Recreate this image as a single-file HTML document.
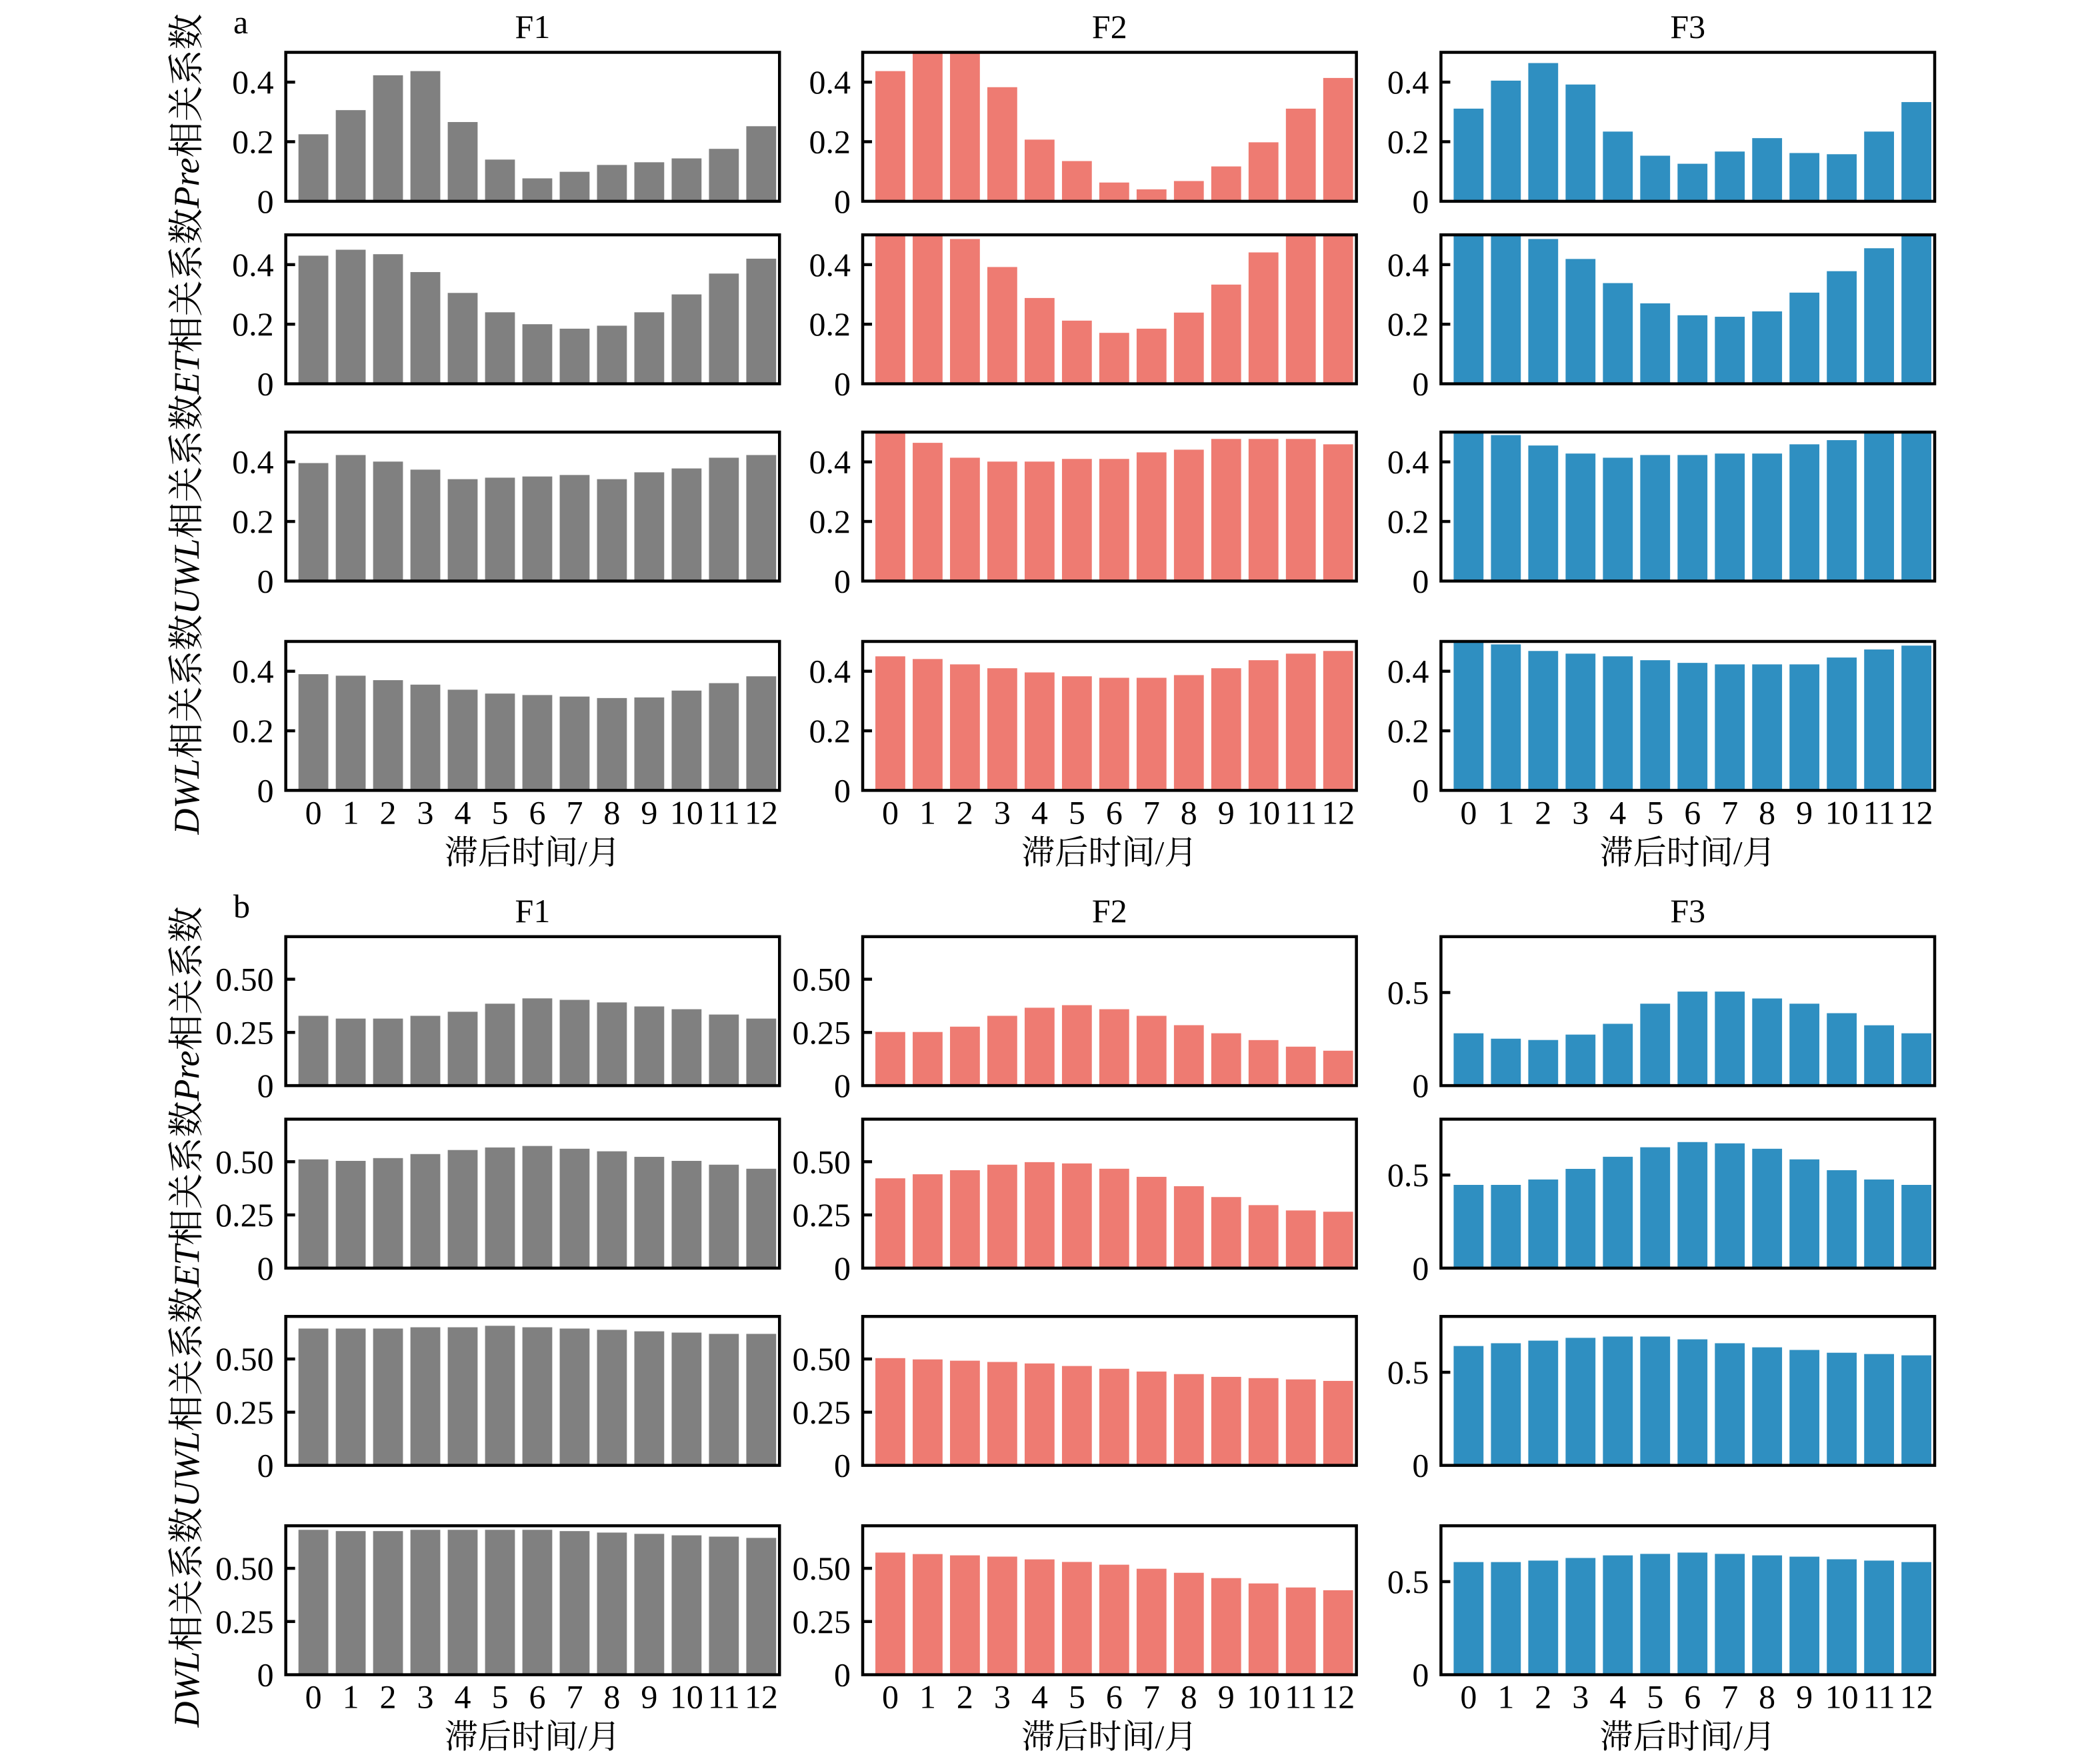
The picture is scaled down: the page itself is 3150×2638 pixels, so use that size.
<!DOCTYPE html>
<html><head><meta charset="utf-8">
<style>
html,body{margin:0;padding:0;background:#fff;}
svg{display:block;}
text{font-family:"Liberation Serif","Noto Serif CJK SC",serif;fill:#000;}
</style></head>
<body>
<svg id="s" width="3150" height="2638" viewBox="0 0 3150 2638" xmlns="http://www.w3.org/2000/svg"></svg>
<script>
const S=2.0125;
const svg=document.getElementById('s');
const NS='http://www.w3.org/2000/svg';
function el(t,a,txt){const e=document.createElementNS(NS,t);for(const k in a)e.setAttribute(k,a[k]);if(txt!==undefined)e.textContent=txt;svg.appendChild(e);return e;}
const colors=['#808080','#EE7B72','#2F8FC1'];
const colL=[213,643,1074], W=368, H=111;
const tops={a:[39,175,322,478],b:[698,834,981,1137]};
const data={a:[
[[0.225,0.306,0.423,0.437,0.266,0.14,0.077,0.099,0.122,0.131,0.144,0.176,0.252],
 [0.437,0.5,0.5,0.383,0.207,0.135,0.063,0.04,0.068,0.117,0.198,0.311,0.414],
 [0.311,0.405,0.464,0.392,0.234,0.153,0.126,0.167,0.212,0.162,0.158,0.234,0.333]],
[[0.43,0.45,0.435,0.375,0.305,0.24,0.2,0.185,0.195,0.24,0.3,0.37,0.42],
 [0.5,0.5,0.486,0.392,0.288,0.212,0.171,0.185,0.239,0.333,0.441,0.5,0.5],
 [0.5,0.5,0.486,0.419,0.338,0.27,0.23,0.225,0.243,0.306,0.378,0.455,0.5]],
[[0.396,0.423,0.401,0.374,0.342,0.347,0.351,0.356,0.342,0.365,0.378,0.414,0.423],
 [0.5,0.464,0.414,0.401,0.401,0.41,0.41,0.432,0.441,0.477,0.477,0.477,0.459],
 [0.5,0.49,0.455,0.428,0.414,0.423,0.423,0.428,0.428,0.459,0.473,0.5,0.5]],
[[0.39,0.385,0.37,0.355,0.338,0.325,0.32,0.315,0.31,0.312,0.335,0.36,0.383],
 [0.45,0.441,0.423,0.41,0.396,0.383,0.378,0.378,0.387,0.41,0.437,0.459,0.468],
 [0.5,0.49,0.468,0.459,0.45,0.437,0.428,0.423,0.423,0.423,0.446,0.473,0.486]]
],b:[
[[0.328,0.315,0.315,0.328,0.347,0.385,0.41,0.403,0.391,0.372,0.359,0.334,0.315],
 [0.252,0.252,0.277,0.328,0.366,0.378,0.359,0.328,0.284,0.246,0.214,0.183,0.164],
 [0.281,0.252,0.245,0.274,0.332,0.44,0.505,0.505,0.468,0.44,0.389,0.324,0.281]],
[[0.511,0.504,0.517,0.536,0.555,0.567,0.574,0.561,0.549,0.523,0.504,0.486,0.467],
 [0.422,0.441,0.46,0.486,0.498,0.492,0.467,0.429,0.385,0.334,0.296,0.271,0.265],
 [0.447,0.447,0.476,0.533,0.598,0.649,0.677,0.67,0.641,0.584,0.526,0.476,0.447]],
[[0.643,0.643,0.643,0.649,0.649,0.656,0.649,0.643,0.637,0.63,0.624,0.618,0.618],
 [0.504,0.498,0.492,0.486,0.479,0.467,0.454,0.441,0.429,0.416,0.41,0.404,0.397],
 [0.641,0.656,0.67,0.685,0.692,0.692,0.677,0.656,0.634,0.62,0.605,0.598,0.591]],
[[0.681,0.675,0.675,0.681,0.681,0.681,0.681,0.675,0.668,0.662,0.655,0.649,0.643],
 [0.574,0.567,0.561,0.555,0.542,0.53,0.517,0.498,0.479,0.454,0.429,0.41,0.397],
 [0.605,0.605,0.613,0.627,0.641,0.649,0.656,0.649,0.641,0.634,0.62,0.613,0.605]]
]};
const x0=-0.74,x1=12.49;
for(const part of ['a','b']){
 for(let r=0;r<4;r++){
  for(let c=0;c<3;c++){
   const L=colL[c]*S, T=tops[part][r]*S, w=W*S, h=H*S, B=T+h;
   let ymax, ticks, lbl;
   if(part==='a'){ymax=0.5;ticks=[0,0.2,0.4];lbl=['0','0.2','0.4'];}
   else if(c<2){ymax=0.7;ticks=[0,0.25,0.5];lbl=['0','0.25','0.50'];}
   else {ymax=0.8;ticks=[0,0.5];lbl=['0','0.5'];}
   const vals=data[part][r][c];
   const px=w/(x1-x0);
   vals.forEach((v,i)=>{
     const vv=Math.min(v,ymax);
     const bh=vv/ymax*h;
     el('rect',{x:L+(i-0.4-x0)*px,y:B-bh,width:0.8*px,height:bh,fill:colors[c]});
   });
   el('rect',{x:L,y:T,width:w,height:h,fill:'none',stroke:'#000','stroke-width':4.5});
   ticks.forEach((t,k)=>{
     const y=B-t/ymax*h;
     if(k>0) el('line',{x1:L,x2:L+14,y1:y,y2:y,stroke:'#000','stroke-width':4.5});
     el('text',{x:L-18,y:y+17,'font-size':50,'text-anchor':'end'},lbl[k]);
   });
   if(r===3){
     for(let i=0;i<13;i++){
       el('text',{x:L+(i-x0)*px,y:B+50,'font-size':50,'text-anchor':'middle'},String(i));
     }
     el('text',{x:L+w/2,y:B+110,'font-size':50,'text-anchor':'middle'},'滞后时间/月');
   }
  }
 }
 const ty=part==='a'?40:1366;
 [397,827,1258].forEach((x,i)=>el('text',{x:x*S,y:ty+17,'font-size':50,'text-anchor':'middle'},'F'+(i+1)));
 el('text',{x:350,y:ty+10,'font-size':50},part);
 const cy=part==='a'?636:1975;
 const t=el('text',{x:0,y:0,'font-size':54,'text-anchor':'middle',transform:`translate(298,${cy}) rotate(-90)`});
 const parts=[['DWL',1],['相关系数',0],['UWL',1],['相关系数',0],['ET',1],['相关系数',0],['Pre',1],['相关系数',0]];
 parts.forEach(([s,it])=>{const ts=document.createElementNS(NS,'tspan');if(it)ts.setAttribute('font-style','italic');ts.textContent=s;t.appendChild(ts);});
}
</script>
</body></html>
